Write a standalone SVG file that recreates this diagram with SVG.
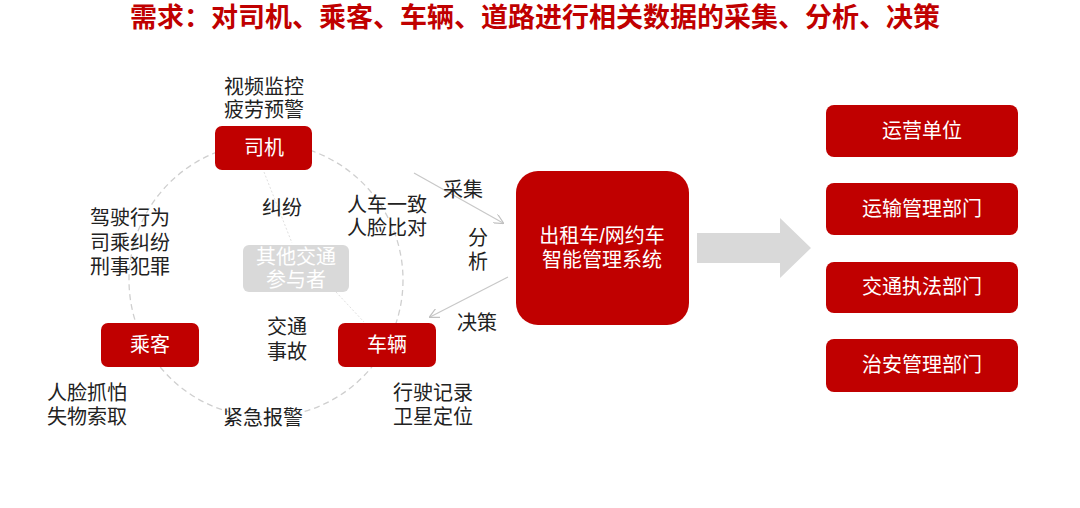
<svg xmlns="http://www.w3.org/2000/svg" width="1080" height="508" viewBox="0 0 1080 508">
<defs>
<style>
text{font-family:"Liberation Sans","Noto Sans CJK SC",sans-serif;text-anchor:middle;dominant-baseline:central}
.t{font-size:20px;fill:#222}
.w{font-size:20px;fill:#fff}
.red{fill:#c00000}
.title{font-size:27px;font-weight:bold;fill:#c00000}
.thin{stroke:#c8c8c8;stroke-width:1.2;fill:none}
</style>
<marker id="ah" viewBox="0 0 10 10" refX="9" refY="5" markerWidth="10" markerHeight="10" markerUnits="userSpaceOnUse" orient="auto">
<path d="M0,0 L10,5 L0,10" fill="none" stroke="#c0c0c0" stroke-width="1.2"/>
</marker>
</defs>
<rect width="1080" height="508" fill="#fff"/>
<text class="title" x="535" y="18">需求：对司机、乘客、车辆、道路进行相关数据的采集、分析、决策</text>

<g id="connectors">
<circle cx="266" cy="280" r="137" fill="none" stroke="#cfcfcf" stroke-width="1.3" stroke-dasharray="6,4"/>
<line x1="264" y1="172" x2="292" y2="243" stroke="#e0e0e0" stroke-width="1" stroke-dasharray="2,2"/>
<line x1="336" y1="292" x2="364" y2="322" stroke="#e0e0e0" stroke-width="1" stroke-dasharray="2,2"/>
<line x1="414" y1="173" x2="503" y2="223" class="thin" marker-end="url(#ah)"/>
<line x1="508" y1="277" x2="430" y2="317" class="thin" marker-end="url(#ah)"/>
<path d="M697,233 H780 V218 L811,248 L780,278 V263 H697 Z" fill="#d9d9d9"/>
</g>

<g id="other">
<rect x="243" y="245" width="106" height="47" rx="6" fill="#d9d9d9"/>
<text class="w" x="296" y="257">其他交通</text>
<text class="w" x="296" y="280">参与者</text>
</g>

<g id="driver">
<rect class="red" x="215" y="126" width="97" height="44" rx="7"/>
<text class="w" x="264" y="148">司机</text>
<text class="t" x="264" y="87">视频监控</text>
<text class="t" x="264" y="110">疲劳预警</text>
</g>

<g id="passenger">
<rect class="red" x="101" y="323" width="98" height="44" rx="7"/>
<text class="w" x="150" y="345">乘客</text>
<text class="t" x="87" y="393">人脸抓怕</text>
<text class="t" x="87" y="417">失物索取</text>
</g>

<g id="vehicle">
<rect class="red" x="338" y="323" width="98" height="44" rx="7"/>
<text class="w" x="387" y="345">车辆</text>
<text class="t" x="433" y="393">行驶记录</text>
<text class="t" x="433" y="417">卫星定位</text>
</g>

<g id="labels">
<text class="t" x="282" y="208">纠纷</text>
<text class="t" x="387" y="205">人车一致</text>
<text class="t" x="387" y="228">人脸比对</text>
<text class="t" x="130" y="218">驾驶行为</text>
<text class="t" x="130" y="243">司乘纠纷</text>
<text class="t" x="130" y="267">刑事犯罪</text>
<text class="t" x="287" y="327">交通</text>
<text class="t" x="287" y="352">事故</text>
<text class="t" x="263" y="418">紧急报警</text>
<text class="t" x="463" y="190">采集</text>
<text class="t" x="478" y="238">分</text>
<text class="t" x="478" y="262">析</text>
<text class="t" x="477" y="323">决策</text>
</g>

<g id="system">
<rect class="red" x="516" y="171" width="173" height="154" rx="22"/>
<text class="w" x="602" y="236">出租车/网约车</text>
<text class="w" x="602" y="260">智能管理系统</text>
</g>

<g id="op"><rect class="red" x="826" y="105" width="192" height="52" rx="8"/><text class="w" x="922" y="131">运营单位</text></g>
<g id="transport"><rect class="red" x="826" y="183" width="192" height="52" rx="8"/><text class="w" x="922" y="209">运输管理部门</text></g>
<g id="enforce"><rect class="red" x="826" y="262" width="192" height="51" rx="8"/><text class="w" x="922" y="287">交通执法部门</text></g>
<g id="security"><rect class="red" x="826" y="339" width="192" height="53" rx="8"/><text class="w" x="922" y="365">治安管理部门</text></g>
</svg>
